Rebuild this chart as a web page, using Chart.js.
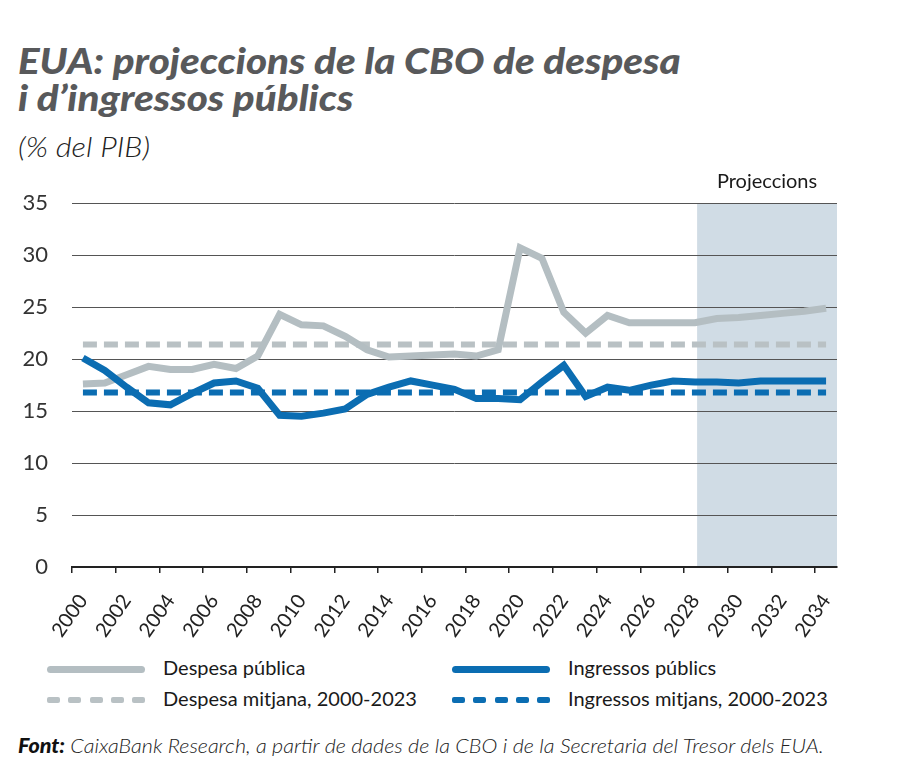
<!DOCTYPE html>
<html><head><meta charset="utf-8">
<script src="https://cdn.jsdelivr.net/npm/chart.js@4"></script>
<style>
html,body{margin:0;padding:0;background:#fff;width:900px;height:778px;overflow:hidden;font-family:Lato,'Open Sans',sans-serif;}
.abs{position:absolute;white-space:nowrap;transform-origin:0 0;}
#t1,#t2{left:18px;font-size:36px;font-weight:900;font-style:italic;color:#58595b;transform:scaleX(1.12);}
#t1{top:38px;}
#t2{top:75px;}
#sub{left:18px;top:130px;font-size:27px;font-style:italic;font-weight:300;color:#222;transform:scaleX(1.14);}
.lg{font-size:20px;color:#1a1a1a;}
.sw{position:absolute;height:7px;border-radius:4px;width:98px;}
.dash{position:absolute;height:6px;width:98px;display:flex;justify-content:space-between;}
.dash span{display:block;width:13px;height:6px;border-radius:2px;}
#foot{left:18px;top:733px;font-size:20px;font-style:italic;font-weight:300;color:#222;transform:scaleX(1.075);}
#foot b{font-weight:900;color:#111;}
#wrap{position:absolute;left:0;top:166px;width:860px;height:474px;}
</style></head>
<body>
<div class="abs" id="t1">EUA: projeccions de la CBO de despesa</div>
<div class="abs" id="t2">i d’ingressos públics</div>
<div class="abs" id="sub">(% del PIB)</div>
<div id="wrap"><canvas id="c"></canvas></div>
<div class="sw" style="left:47px;top:666px;background:#b4bec2"></div>
<div class="abs lg" style="left:163px;top:655px">Despesa pública</div>
<div class="sw" style="left:452px;top:666px;background:#0b6db2"></div>
<div class="abs lg" style="left:568px;top:655px">Ingressos públics</div>
<div class="dash" style="left:47px;top:697px"><span style="background:#b9c1c4"></span><span style="background:#b9c1c4"></span><span style="background:#b9c1c4"></span><span style="background:#b9c1c4"></span><span style="background:#b9c1c4"></span></div>
<div class="abs lg" style="left:163px;top:686px">Despesa mitjana, 2000-2023</div>
<div class="dash" style="left:452px;top:697px"><span style="background:#0b6db2"></span><span style="background:#0b6db2"></span><span style="background:#0b6db2"></span><span style="background:#0b6db2"></span><span style="background:#0b6db2"></span></div>
<div class="abs lg" style="left:568px;top:686px">Ingressos mitjans, 2000-2023</div>
<div class="abs" id="foot"><b>Font:</b> CaixaBank Research, a partir de dades de la CBO i de la Secretaria del Tresor dels EUA.</div>
<script>
const years = [2000,2001,2002,2003,2004,2005,2006,2007,2008,2009,2010,2011,2012,2013,2014,2015,2016,2017,2018,2019,2020,2021,2022,2023,2024,2025,2026,2027,2028,2029,2030,2031,2032,2033,2034];
const despesa = [17.6,17.7,18.5,19.3,19.0,19.0,19.5,19.1,20.3,24.3,23.3,23.2,22.2,20.9,20.2,20.3,20.4,20.5,20.3,20.9,30.7,29.7,24.5,22.5,24.2,23.5,23.5,23.5,23.5,23.9,24.0,24.2,24.4,24.6,24.9];
const ingressos = [20.1,18.9,17.3,15.8,15.6,16.7,17.7,17.9,17.2,14.6,14.5,14.8,15.2,16.6,17.3,17.9,17.5,17.1,16.2,16.2,16.1,17.8,19.4,16.4,17.3,17.0,17.5,17.9,17.8,17.8,17.7,17.9,17.9,17.9,17.9];
const despesaMitjana = 21.4;
const ingressosMitjans = 16.8;
const projStart = 2028.6;
const yTicks = [0,5,10,15,20,25,30,35];

const FONT = 'Lato, "Open Sans", sans-serif';
const GRAY = '#b4bec2', GRAYD = '#b9c1c4', BLUE = '#0b6db2', SHADE = '#d0dce5';

const pts = arr => years.map((y,i)=>({x:y+0.5, y:arr[i]}));
const flat = v => [{x:years[0]+0.5, y:v},{x:years[years.length-1]+0.5, y:v}];

const shadePlugin = {
  id:'shade',
  beforeDraw(chart){
    const {ctx, chartArea:a, scales:{x}} = chart;
    const x0 = x.getPixelForValue(projStart);
    ctx.save();
    ctx.fillStyle = SHADE;
    ctx.fillRect(x0, a.top, a.right - x0, a.bottom - a.top);
    ctx.fillStyle = '#1a1a1a';
    ctx.font = '20px ' + FONT;
    ctx.textAlign = 'center';
    ctx.textBaseline = 'middle';
    ctx.fillText('Projeccions', (x0 + a.right)/2, a.top - 22);
    ctx.restore();
  }
};

new Chart(document.getElementById('c'), {
  type:'line',
  data:{datasets:[
    {label:'Ingressos públics', data:pts(ingressos), borderColor:BLUE, borderWidth:7, order:0},
    {label:'Despesa pública', data:pts(despesa), borderColor:GRAY, borderWidth:7, order:1},
    {label:'Ingressos mitjans, 2000-2023', data:flat(ingressosMitjans), borderColor:BLUE, borderWidth:6, borderDash:[14,7], order:2},
    {label:'Despesa mitjana, 2000-2023', data:flat(despesaMitjana), borderColor:GRAYD, borderWidth:6, borderDash:[14,7], order:3}
  ]},
  options:{
    responsive:true, maintainAspectRatio:false, animation:false,
    layout:{padding:{top:29,right:23,left:0,bottom:0}},
    elements:{point:{radius:0}, line:{tension:0, borderCapStyle:'butt', borderJoinStyle:'miter'}},
    plugins:{legend:{display:false}, tooltip:{enabled:false}},
    scales:{
      x:{type:'linear', min:2000, max:2035,
        afterFit:s=>{s.height=73;},
        ticks:{stepSize:2, includeBounds:false, autoSkip:false, minRotation:55, maxRotation:55, labelOffset:11, padding:17,
          color:'#222', font:{family:FONT, size:20}, callback:v=>String(v)},
        grid:{drawOnChartArea:false, drawTicks:true, tickLength:6, color:'#222', lineWidth:1.5},
        border:{display:true, color:'#222', width:2}},
      y:{min:0, max:35,
        afterFit:s=>{s.width=72;},
        afterBuildTicks:s=>{s.ticks = yTicks.map(v=>({value:v}));},
        ticks:{padding:24, color:'#333', font:{family:FONT, size:22}},
        grid:{drawTicks:false, color:'#555', lineWidth:1},
        border:{display:false}}
    }
  },
  plugins:[shadePlugin]
});
</script>
</body></html>
